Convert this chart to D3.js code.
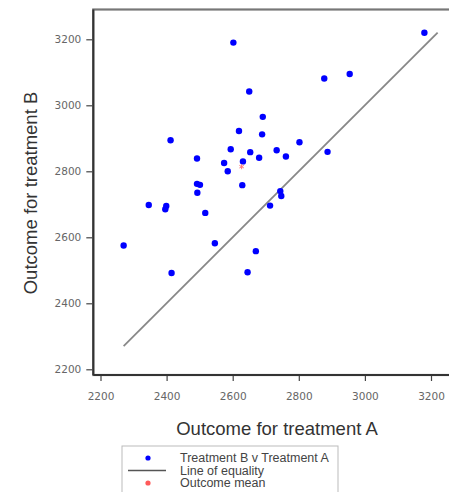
<!DOCTYPE html>
<html>
<head>
<meta charset="utf-8">
<script src="https://cdn.jsdelivr.net/npm/d3@7"></script>
<style>
  body { margin: 0; background: #fff; }
  svg { display: block; }
  .tick text { font-family: "DejaVu Sans", sans-serif; font-size: 10.5px; fill: #666; }
  .tick line { stroke: #444; stroke-width: 1.2; }
</style>
</head>
<body>
<div id="chart"></div>
<script>
// outcome for treatment A (x) and treatment B (y), one pair per subject
var outcomeA = [3180, 2602, 2877, 2954, 2650, 2691, 2619, 2689, 2412, 2802,
    2594, 2733, 2887, 2653, 2761, 2680, 2492, 2631, 2574, 2585,
    2492, 2501, 2629, 2493, 2744, 2747, 2346, 2399, 2396, 2517,
    2713, 2270, 2546, 2670, 2415, 2645];
var outcomeB = [3220, 3190, 3081, 3095, 3042, 2965, 2922, 2912, 2894, 2888,
    2867, 2864, 2859, 2858, 2845, 2841, 2839, 2830, 2825, 2800,
    2762, 2759, 2758, 2735, 2740, 2725, 2698, 2695, 2685, 2674,
    2696, 2575, 2582, 2558, 2492, 2494];
var meanPoint = [2627, 2814];
var tickValues = [2200, 2400, 2600, 2800, 3000, 3200];
var legendLabels = ["Treatment B v Treatment A", "Line of equality", "Outcome mean"];

var width = 449, height = 492;

var svg = d3.select("#chart").append("svg")
    .attr("width", width)
    .attr("height", height);

var xScale = d3.scaleLinear().domain([2200, 3200]).range([100.5, 431]);
var yScale = d3.scaleLinear().domain([2200, 3200]).range([369.3, 39.3]);

var frameLeft = 93.3, frameBottom = 375, frameTop = 9.5;

// frame (right side runs past the picture edge)
svg.append("rect")
    .attr("x", frameLeft)
    .attr("y", frameTop)
    .attr("width", 370)
    .attr("height", frameBottom - frameTop)
    .attr("fill", "none")
    .attr("stroke", "#777")
    .attr("stroke-width", 2.2);

svg.append("line")
    .attr("x1", frameLeft).attr("x2", frameLeft)
    .attr("y1", frameTop).attr("y2", frameBottom)
    .attr("stroke", "#333").attr("stroke-width", 2);
svg.append("line")
    .attr("x1", frameLeft).attr("x2", width)
    .attr("y1", frameBottom).attr("y2", frameBottom)
    .attr("stroke", "#333").attr("stroke-width", 2);

// axes
var xAxis = d3.axisBottom(xScale).tickValues(tickValues).tickSize(5).tickPadding(12).tickFormat(d3.format("d"));
var yAxis = d3.axisLeft(yScale).tickValues(tickValues).tickSize(6).tickPadding(5).tickFormat(d3.format("d"));

svg.append("g")
    .attr("class", "axis x-axis")
    .attr("transform", "translate(0," + (frameBottom + 1) + ")")
    .call(xAxis)
    .call(g => g.select(".domain").remove());

svg.append("g")
    .attr("class", "axis y-axis")
    .attr("transform", "translate(" + (frameLeft - 1) + ",0)")
    .call(yAxis)
    .call(g => g.select(".domain").remove());

// axis titles
svg.append("text")
    .attr("x", 277)
    .attr("y", 435)
    .attr("text-anchor", "middle")
    .attr("font-family", "Liberation Sans, Arial, sans-serif")
    .attr("font-size", 18.5)
    .attr("fill", "#333")
    .text("Outcome for treatment A");

svg.append("text")
    .attr("transform", "translate(37,193) rotate(-90)")
    .attr("text-anchor", "middle")
    .attr("font-family", "Liberation Sans, Arial, sans-serif")
    .attr("font-size", 18.5)
    .attr("fill", "#333")
    .text("Outcome for treatment B");

// line of equality from smallest to largest value
var allValues = outcomeA.concat(outcomeB);
var ext = d3.extent(allValues);
svg.append("line")
    .attr("x1", xScale(ext[0])).attr("y1", yScale(ext[0]))
    .attr("x2", xScale(ext[1])).attr("y2", yScale(ext[1]))
    .attr("stroke", "#888")
    .attr("stroke-width", 1.8);

var data = outcomeA.map(function(a, i) { return { a: a, b: outcomeB[i] }; });

svg.selectAll("circle.pt")
    .data(data)
    .enter()
    .append("circle")
    .attr("class", "pt")
    .attr("cx", function(d) { return xScale(d.a); })
    .attr("cy", function(d) { return yScale(d.b); })
    .attr("r", 3.2)
    .attr("fill", "#0000ff");

// outcome mean
svg.append("path")
    .attr("d", d3.symbol(d3.symbolAsterisk, 18)())
    .attr("transform", "translate(" + xScale(meanPoint[0]) + "," + yScale(meanPoint[1]) + ")")
    .attr("fill", "none")
    .attr("stroke", "#ff7a7a")
    .attr("stroke-width", 1);

// legend
var legend = svg.append("g");
legend.append("rect")
    .attr("x", 122).attr("y", 446)
    .attr("width", 216).attr("height", 60)
    .attr("fill", "#fff")
    .attr("stroke", "#bbb")
    .attr("stroke-width", 1);

var rowY = [458, 470.5, 483];
legend.append("circle").attr("cx", 148).attr("cy", rowY[0]).attr("r", 2.6).attr("fill", "#0000ff");
legend.append("line").attr("x1", 128).attr("x2", 166).attr("y1", rowY[1]).attr("y2", rowY[1])
    .attr("stroke", "#555").attr("stroke-width", 1.6);
legend.append("circle").attr("cx", 148).attr("cy", rowY[2]).attr("r", 2.6).attr("fill", "#ff5a5a");

legend.selectAll("text")
    .data(legendLabels)
    .enter()
    .append("text")
    .attr("x", 180)
    .attr("y", function(d, i) { return rowY[i] + 4; })
    .attr("font-family", "Liberation Sans, Arial, sans-serif")
    .attr("font-size", 12.5)
    .attr("fill", "#444")
    .text(function(d) { return d; });
</script>
</body>
</html>
